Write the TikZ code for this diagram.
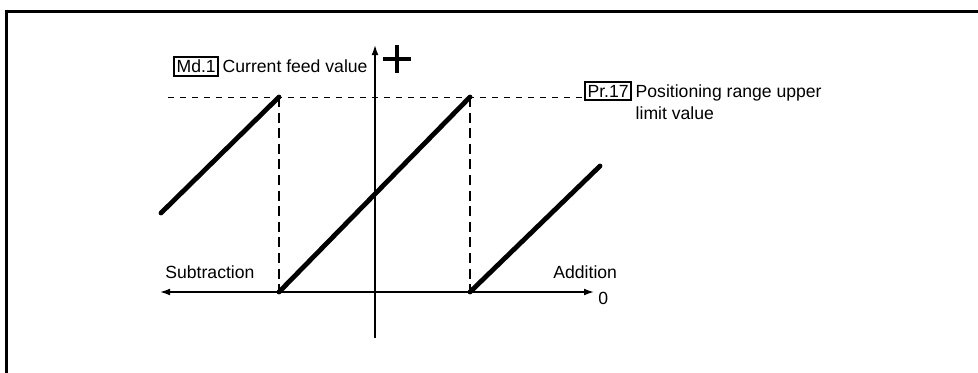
\documentclass[tikz,border=0pt]{standalone}
\usepackage{fontspec}
\setmainfont{Liberation Sans}
\usetikzlibrary{arrows.meta}
\begin{document}
\begin{tikzpicture}[x=0.5pt,y=-0.5pt,
  txt/.style={inner sep=0pt,font=\fontsize{8.8pt}{10.5pt}\selectfont},
  tagbox/.style={draw,line width=1pt,inner sep=1.3pt,font=\fontsize{8.8pt}{10.5pt}\selectfont},
  axis/.style={line width=0.7pt,-{Latex[length=5pt,width=3.4pt]}},
  saw/.style={line width=2.4pt,line cap=round},
  hdash/.style={line width=0.5pt,dash pattern=on 3pt off 3pt},
  vdash/.style={line width=1.2pt,dash pattern=on 5pt off 2.8pt}]
\useasboundingbox (0,0) rectangle (978,372);
\clip (0,0) rectangle (978,372);
% frame
\draw[line width=1.5pt] (6.5,1000) -- (6.5,11.5) -- (1000,11.5);
% axes
\coordinate (o) at (375,292);
\coordinate (xl) at (160,292);
\coordinate (xr) at (594,292);
\coordinate (yb) at (375,338);
\coordinate (yt) at (375,45);
\draw[axis] (o) -- (xl);
\draw[axis] (o) -- (xr);
\draw[line width=0.7pt] (yb) -- (o);
\draw[axis] (o) -- (yt);
% plus sign
\coordinate (p) at (397,59);
\draw[line width=1.7pt] ([xshift=-7pt]p) -- ([xshift=7pt]p);
\draw[line width=1.7pt] ([yshift=7pt]p) -- ([yshift=-7pt]p);
% upper limit dashed line
\coordinate (dl) at (168,97);
\coordinate (dr) at (582,97);
\draw[hdash] (dl) -- (dr);
% saw-tooth points
\coordinate (a0) at (161,213);
\coordinate (a1) at (279,97);
\coordinate (b0) at (279,292);
\coordinate (b1) at (470,97);
\coordinate (c0) at (470,292);
\coordinate (c1) at (600,166);
\draw[vdash] (a1) -- (b0);
\draw[vdash] (b1) -- (c0);
\draw[saw] (a0) -- (a1);
\draw[saw] (b0) -- (b1);
\draw[saw] (c0) -- (c1);
% labels
\node[tagbox,anchor=west] (md) at (173,66.5) {Md.1};
\node[txt,anchor=base west] (mdt) at ([xshift=1.5pt]md.base east) {Current feed value};
\node[tagbox,anchor=west] (pr) at (584,91) {Pr.17};
\node[txt,anchor=base west] (prt) at ([xshift=1.5pt]pr.base east) {Positioning range upper};
\node[txt,anchor=base west] (prt2) at ([yshift=-11pt]prt.base west) {limit value};
\node[txt,anchor=base west] (sub) at (165,278) {Subtraction};
\node[txt,anchor=base west] (add) at (553,278) {Addition};
\node[txt,anchor=west] (zero) at (598,298) {0};
\end{tikzpicture}
\end{document}
